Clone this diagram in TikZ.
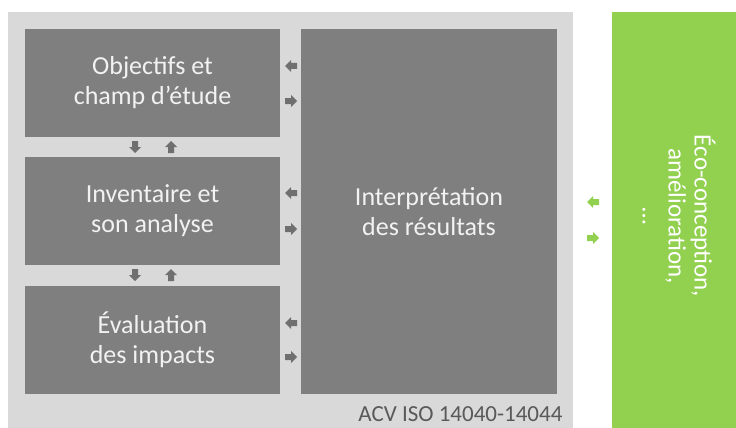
\documentclass[tikz,border=0pt]{standalone}
\usepackage{fontspec}
\setmainfont{Carlito}
\definecolor{cadre}{HTML}{D9D9D9}
\definecolor{bloc}{HTML}{7F7F7F}
\definecolor{fleche}{HTML}{6F6F6F}
\definecolor{vert}{HTML}{92D050}
\begin{document}
\begin{tikzpicture}[
    x=1pt, y=-1pt,
    bloc/.style={rectangle, fill=bloc, text=white!95!black, inner sep=0pt, align=center,
        minimum width=255pt, minimum height=108pt, font=\fontsize{26}{30}\selectfont},
    fl/.pic={\fill[pic actions] (-6,-3) -- (0,-3) -- (0,-6) -- (6,0) -- (0,6) -- (0,3) -- (-6,3) -- cycle;}
]
\useasboundingbox (0,0) rectangle (736,428);

% ----- cadre -----
\fill[cadre] (8,12) rectangle (573,428);
\node[anchor=east, text=black!65, font=\fontsize{23}{26}\selectfont] (norme) at (566,414) {ACV ISO 14040-14044};

% ----- phases -----
\node[bloc] (obj) at (152.5,83) {Objectifs et\\champ d'étude};
\node[bloc] (inv) at (152.5,211) {Inventaire et\\son analyse};
\node[bloc] (eval) at (152.5,339.5) {Évaluation\\des impacts};
\node[bloc, minimum width=256pt, minimum height=365pt] (interp) at (429,211.5) {Interprétation\\des résultats};

% ----- applications -----
\node[rectangle, fill=vert, minimum width=124pt, minimum height=416pt, inner sep=0pt] (appli) at (674,220) {};
\node[rotate=-90, text=white, align=center, font=\fontsize{25}{26}\selectfont] (applitxt) at (679,216) {Éco-conception,\\amélioration,\\…};

% ----- flèches -----
\pic[fill=fleche, rotate=180] at (291,66) {fl};
\pic[fill=fleche] at (291,101) {fl};
\pic[fill=fleche, rotate=180] at (291,193) {fl};
\pic[fill=fleche] at (291,229) {fl};
\pic[fill=fleche, rotate=180] at (291,323) {fl};
\pic[fill=fleche] at (291,357) {fl};

\pic[fill=fleche, rotate=-90] at (135,147) {fl};
\pic[fill=fleche, rotate=90] at (171,147) {fl};
\pic[fill=fleche, rotate=-90] at (135,275) {fl};
\pic[fill=fleche, rotate=90] at (171,275) {fl};

\pic[fill=vert, rotate=180] at (593,202) {fl};
\pic[fill=vert] at (593,238) {fl};

\end{tikzpicture}
\end{document}
